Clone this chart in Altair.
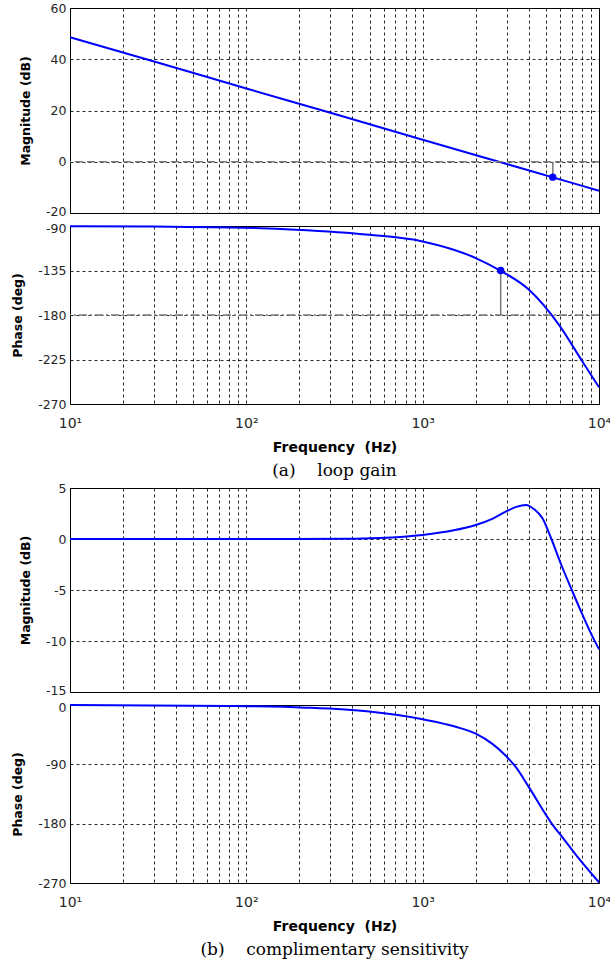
import altair as alt
import pandas as pd

# ---------------- data ----------------
# (a) loop gain - magnitude
lg_mag_freq = [10, 30, 100, 300, 1000, 3000, 10000]
lg_mag_db = [48.6, 39.1, 28.6, 19.1, 8.6, -0.9, -11.3]
# (a) loop gain - phase
lg_ph_freq = [10, 30, 80, 191, 497, 1000, 2000, 2770, 4010, 5930, 8050, 10000]
lg_ph_deg = [-90.2, -90.6, -91.4, -93.7, -98.8, -105.6, -122.4, -135.3, -154.5, -190.0, -227.0, -253.0]
# gain-margin / phase-margin markers
gm_freq = [5470]
gm_db = [-6.0]
gm_ref = [0]
pm_freq = [2770]
pm_deg = [-135.0]
pm_ref = [-180]

# (b) complimentary sensitivity - magnitude
cs_mag_freq = [10, 100, 382, 566, 1000, 1500, 2000, 2500, 2960, 3400, 3850, 4300, 4770, 5370, 6100, 7010, 8000, 8970, 10000]
cs_mag_db = [0.0, 0.0, 0.02, 0.1, 0.4, 0.85, 1.37, 2.0, 2.68, 3.15, 3.34, 2.9, 2.05, 0.0, -2.5, -5.0, -7.3, -9.2, -10.8]
# (b) complimentary sensitivity - phase
cs_ph_freq = [10, 80, 217, 497, 1000, 1540, 2000, 2485, 2960, 3370, 4010, 5430, 6300, 7380, 10000]
cs_ph_deg = [0.0, -1.5, -4.0, -10.0, -21.7, -33.0, -43.5, -59.0, -77.0, -94.0, -125.0, -181.0, -203.0, -227.0, -269.0]

captions = ["(a)\u00a0\u00a0\u00a0\u00a0loop gain", "(b)\u00a0\u00a0\u00a0\u00a0complimentary sensitivity"]

x_grid = [m * d for d in (10, 100, 1000) for m in range(1, 10)] + [10000]
x_label_expr = ("datum.value == 10 ? '10\u00b9' : datum.value == 100 ? '10\u00b2' : "
                "datum.value == 1000 ? '10\u00b3' : datum.value == 10000 ? '10\u2074' : ''")
y_label_expr = "replace(datum.label, '\u2212', '-')"

W = 529
BLUE = "#0000ff"
GRAY = "#7a7a7a"


def x_enc(show):
    if show:
        ax = alt.Axis(values=x_grid, labelExpr=x_label_expr, labelOverlap=False,
                      labelFlush=False, labelPadding=12, labelFontSize=14,
                      title="Frequency\u00a0\u00a0(Hz)", titlePadding=10, titleFontSize=14)
    else:
        ax = alt.Axis(values=x_grid, labels=False, title=None)
    return alt.X("f:Q", scale=alt.Scale(type="log", domain=[10, 10000], nice=False), axis=ax)


def y_enc(field, domain, values, title, edge_value, edge_shift):
    return alt.Y(f"{field}:Q", scale=alt.Scale(domain=domain, nice=False, zero=False),
                 axis=alt.Axis(values=values, title=title, labelPadding=4, titlePadding=13,
                               labelFontSize=12.5, labelExpr=y_label_expr,
                               labelOffset={"condition": {"test": f"datum.value == {edge_value}",
                                                          "value": edge_shift},
                                            "value": 0}))


def cap(text):
    return alt.TitleParams(text=text, orient="bottom", anchor="middle", font="DejaVu Serif",
                           fontSize=17, fontWeight="normal", color="#000", offset=9)


def panel(freq, vals, domain, values, title, height, show_x, edge, extras=(), caption=None):
    df = pd.DataFrame({"f": freq, "v": vals})
    line = alt.Chart(df).mark_line(color=BLUE, strokeWidth=2, interpolate="monotone").encode(
        x=x_enc(show_x), y=y_enc("v", domain, values, title, edge[0], edge[1]))
    layers = [line] + list(extras)
    props = dict(width=W, height=height)
    if caption is not None:
        props["title"] = cap(caption)
    return alt.layer(*layers).properties(**props)


# panel 1 extras: 0 dB line, gain-margin stem and marker
zero_line = alt.Chart(pd.DataFrame({"v": gm_ref})).mark_rule(
    color=GRAY, strokeWidth=1.6, strokeDash=[8, 4]).encode(y="v:Q")
gm_df = pd.DataFrame({"f": gm_freq, "v": gm_db, "r": gm_ref})
gm_stem = alt.Chart(gm_df).mark_rule(color=GRAY, strokeWidth=1.5).encode(
    x="f:Q", y="v:Q", y2="r:Q")
gm_pt = alt.Chart(gm_df).mark_point(filled=True, color=BLUE, size=55, opacity=1).encode(
    x="f:Q", y="v:Q")

m180_line = alt.Chart(pd.DataFrame({"v": pm_ref})).mark_rule(
    color=GRAY, strokeWidth=1.6, strokeDash=[8, 3, 2, 3]).encode(y="v:Q")
pm_df = pd.DataFrame({"f": pm_freq, "v": pm_deg, "r": pm_ref})
pm_stem = alt.Chart(pm_df).mark_rule(color=GRAY, strokeWidth=1.5).encode(
    x="f:Q", y="v:Q", y2="r:Q")
pm_pt = alt.Chart(pm_df).mark_point(filled=True, color=BLUE, size=55, opacity=1).encode(
    x="f:Q", y="v:Q")

p1 = panel(lg_mag_freq, lg_mag_db, [-20, 60], [-20, 0, 20, 40, 60], "Magnitude (dB)", 205, False,
           (-20, -2), [zero_line, gm_stem, gm_pt])
p2 = panel(lg_ph_freq, lg_ph_deg, [-270, -90], [-270, -225, -180, -135, -90], "Phase (deg)", 178, True,
           (-90, 2), [m180_line, pm_stem, pm_pt], caption=captions[0])
p3 = panel(cs_mag_freq, cs_mag_db, [-15, 5], [-15, -10, -5, 0, 5], "Magnitude (dB)", 204, False,
           (-15, -2))
p4 = panel(cs_ph_freq, cs_ph_deg, [-270, 0], [-270, -180, -90, 0], "Phase (deg)", 178, True,
           (0, 2), caption=captions[1])

ga = alt.vconcat(p1, p2, spacing=13, bounds="flush")
gb = alt.vconcat(p3, p4, spacing=13, bounds="flush")

chart = alt.vconcat(ga, gb, spacing=1).properties(
    padding={"left": 11, "top": 1, "right": -2, "bottom": 1}
).configure(background="white").configure_view(stroke="#000", strokeWidth=1).configure_axis(
    labelFont="DejaVu Sans", labelColor="#262626",
    titleFont="DejaVu Sans", titleFontSize=12.5, titleFontWeight="bold", titleColor="#000",
    grid=True, gridColor="#000", gridDash=[3, 3], gridOpacity=0.85, gridWidth=1,
    domain=False, ticks=False
)

chart.save("out.html", embed_options={"renderer": "svg", "actions": False})
